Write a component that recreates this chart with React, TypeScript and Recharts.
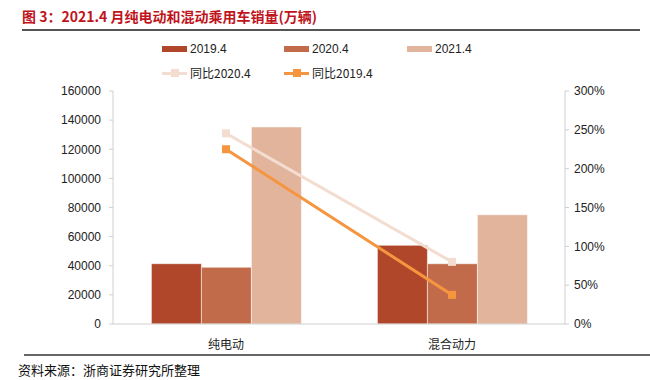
import React from 'react';
import { ComposedChart, Bar, Line, XAxis, YAxis } from 'recharts';

const categories = ['纯电动', '混合动力'];
const sales2019 = [41400, 54000];
const sales2020 = [38900, 41400];
const sales2021 = [135300, 75000];
const yoy2020 = [2.455, 0.8];
const yoy2019 = [2.25, 0.375];
const leftTicks = [0, 20000, 40000, 60000, 80000, 100000, 120000, 140000, 160000];
const rightTicks = [0, 0.5, 1, 1.5, 2, 2.5, 3];

const data = categories.map((c, i) => ({
  name: c,
  s2019: sales2019[i],
  s2020: sales2020[i],
  s2021: sales2021[i],
  y2020: yoy2020[i],
  y2019: yoy2019[i],
}));

const C2019 = '#b0472a';
const C2020 = '#c26b4b';
const C2021 = '#e2b49c';
const L2020 = '#f3ddd0';
const L2019 = '#f5953f';

const font = '"Liberation Sans", Arial, sans-serif';
const cjk = '"Noto Sans CJK SC", sans-serif';

const squareDot = (color: string) => (props: any) => {
  const { cx, cy, index } = props;
  if (cx == null || cy == null) return <g key={index} />;
  return <rect key={index} x={cx - 4} y={cy - 4} width={8} height={8} fill={color} />;
};

const LegendBlock = () => {
  const barItem = (x: number, color: string, label: string) => (
    <div style={{ position: 'absolute', left: x, top: 0, display: 'flex', alignItems: 'center', height: 16 }}>
      <div style={{ width: 25, height: 6, background: color, marginRight: 3 }} />
      <span style={{ fontFamily: font, fontSize: 12, color: '#222', lineHeight: '16px' }}>{label}</span>
    </div>
  );
  const lineItem = (x: number, color: string, label: string) => (
    <div style={{ position: 'absolute', left: x, top: 24, display: 'flex', alignItems: 'center', height: 16 }}>
      <div style={{ position: 'relative', width: 25, height: 8, marginRight: 3 }}>
        <div style={{ position: 'absolute', left: 0, top: 3, width: 25, height: 3, background: color }} />
        <div style={{ position: 'absolute', left: 9, top: 0, width: 8, height: 8, background: color }} />
      </div>
      <span style={{ fontFamily: cjk, fontSize: 12, color: '#222', lineHeight: '16px' }}>{label}</span>
    </div>
  );
  return (
    <div style={{ position: 'absolute', left: 0, top: 41, width: 650, height: 44 }}>
      {barItem(162, C2019, '2019.4')}
      {barItem(284, C2020, '2020.4')}
      {barItem(407, C2021, '2021.4')}
      {lineItem(162, L2020, '同比2020.4')}
      {lineItem(284, L2019, '同比2019.4')}
    </div>
  );
};

export default function App() {
  return (
    <div style={{ position: 'fixed', left: 0, top: 0, width: 650, height: 380, background: '#fff', overflow: 'hidden' }}>
      <ComposedChart
        width={650}
        height={380}
        data={data}
        margin={{ top: 91, right: 25, bottom: 26, left: 53 }}
        barCategoryGap="17%"
        barGap={0}
      >
        <XAxis
          dataKey="name"
          stroke="#d0d0d0"
          tickLine={false}
          height={30}
          tick={{ fill: '#222', fontSize: 12, fontFamily: cjk }}
          tickMargin={10}
        />
        <YAxis
          yAxisId="left"
          domain={[0, 160000]}
          ticks={leftTicks}
          width={60}
          stroke="#d0d0d0"
          tickSize={4}
          tick={{ fill: '#222', fontSize: 12, fontFamily: font }}
          tickMargin={8}
        />
        <YAxis
          yAxisId="right"
          orientation="right"
          domain={[0, 3]}
          ticks={rightTicks}
          width={60}
          stroke="#d0d0d0"
          tickSize={4}
          tick={{ fill: '#222', fontSize: 12, fontFamily: font, textAnchor: 'start' }}
          tickMargin={5}
          tickFormatter={(v: number) => `${Math.round(v * 100)}%`}
        />
        <Bar yAxisId="left" dataKey="s2019" fill={C2019} stroke="#fff" strokeWidth={0.5} isAnimationActive={false} />
        <Bar yAxisId="left" dataKey="s2020" fill={C2020} stroke="#fff" strokeWidth={0.5} isAnimationActive={false} />
        <Bar yAxisId="left" dataKey="s2021" fill={C2021} stroke="#fff" strokeWidth={0.5} isAnimationActive={false} />
        <Line yAxisId="right" dataKey="y2020" stroke={L2020} strokeWidth={3} dot={squareDot(L2020)} activeDot={false} isAnimationActive={false} />
        <Line yAxisId="right" dataKey="y2019" stroke={L2019} strokeWidth={3} dot={squareDot(L2019)} activeDot={false} isAnimationActive={false} />
      </ComposedChart>
      <div style={{ position: 'absolute', left: 22, top: 6, fontFamily: cjk, fontWeight: 700, fontSize: 14, color: '#c0141c', whiteSpace: 'nowrap' }}>
        图 3：2021.4 月纯电动和混动乘用车销量(万辆)
      </div>
      <div style={{ position: 'absolute', left: 22, top: 29, width: 618, height: 2, background: '#555' }} />
      <LegendBlock />
      <div style={{ position: 'absolute', left: 24, top: 354, width: 626, height: 2, background: '#666' }} />
      <div style={{ position: 'absolute', left: 18, top: 360, fontFamily: cjk, fontSize: 13, color: '#111', whiteSpace: 'nowrap' }}>
        资料来源：浙商证券研究所整理
      </div>
    </div>
  );
}
